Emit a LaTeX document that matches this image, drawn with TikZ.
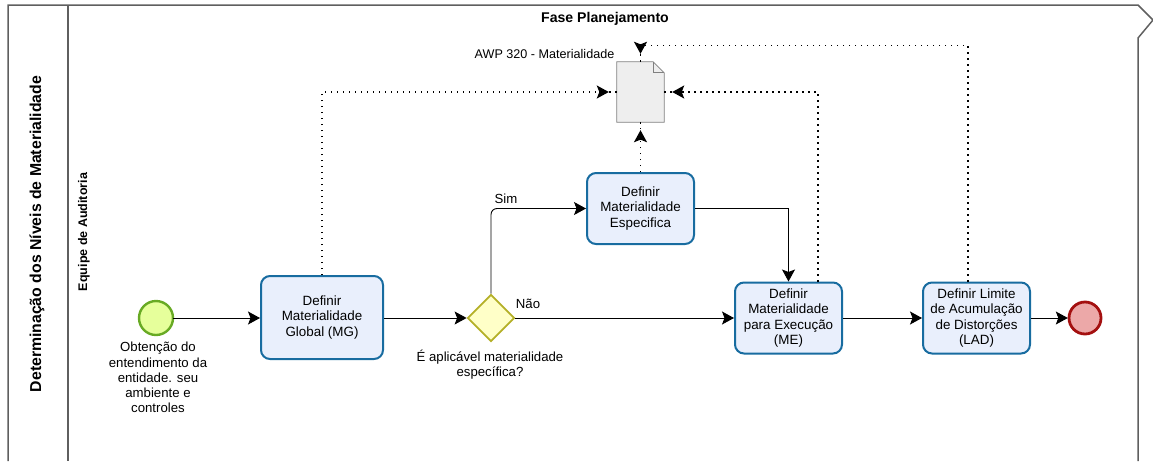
\documentclass[tikz,border=0pt]{standalone}
\usepackage{fontspec}
\setmainfont{Liberation Sans}
\usetikzlibrary{arrows.meta,shapes.geometric}
\definecolor{taskfill}{RGB}{233,239,252}
\definecolor{taskline}{RGB}{24,108,160}
\definecolor{startfill}{RGB}{230,255,155}
\definecolor{startline}{RGB}{104,170,36}
\definecolor{gatefill}{RGB}{255,255,200}
\definecolor{gateline}{RGB}{180,176,40}
\definecolor{endfill}{RGB}{236,168,168}
\definecolor{endline}{RGB}{164,16,16}
\definecolor{poolline}{RGB}{95,95,95}
\definecolor{docfill}{RGB}{238,238,238}

\begin{document}
\begin{tikzpicture}[x=1pt,y=-1pt,
	task/.style={draw=taskline, fill=taskfill, line width=2pt, rounded corners=9pt,
		align=center, font=\fontsize{13.4}{15.2}\selectfont, inner sep=2pt},
	flow/.style={draw=black, line width=0.9pt, -{Stealth[length=12pt,width=13pt,inset=2.5pt]}},
	dotline/.style={draw=black, line width=1.4pt, dash pattern=on 1.4pt off 4.6pt},
	dotflow/.style={dotline, shorten >=8pt, -{Stealth[length=12pt,width=13pt,inset=2.5pt]}},
	lbl/.style={align=center, font=\fontsize{13.2}{15.2}\selectfont, inner sep=0pt}]
	\useasboundingbox (0,0) rectangle (1153,461);

	% pool and lane
	\draw[poolline, line width=1.5pt] (8,461) -- (8,5) -- (1138,5) -- (1153,20) -- (1138,38) -- (1138,461);
	\draw[poolline, line width=1.5pt] (68,5) -- (68,461);
	\node[rotate=90, font=\fontsize{15.8}{18}\selectfont\bfseries] (pool) at (37,234) {Determinação dos Níveis de Materialidade};
	\node[rotate=90, font=\fontsize{12.5}{14}\selectfont\bfseries] (lane) at (84,232) {Equipe de Auditoria};
	\node[font=\fontsize{14.1}{16}\selectfont\bfseries] (fase) at (605,19) {Fase Planejamento};

	% document
	\node[minimum width=47pt, minimum height=60pt, inner sep=0pt] (doc) at (640.5,92) {};
	\filldraw[fill=docfill, draw=gray, line width=0.8pt] (doc.south west) -- (doc.north west) -- ([xshift=-11pt]doc.north east)
		-- ([yshift=-11pt]doc.north east) -- (doc.south east) -- cycle;
	\draw[gray, line width=0.8pt] ([xshift=-11pt]doc.north east) -- ++(0,11) -- ([yshift=-11pt]doc.north east);
	\node[lbl, font=\fontsize{12.6}{14}\selectfont] (doclbl) at (544.5,54) {AWP 320 - Materialidade};

	% events, gateway, tasks
	\filldraw[fill=startfill, draw=startline, line width=2.4pt] (156,318) circle (17);
	\node[minimum size=34pt, inner sep=0pt] (start) at (156,318) {};
	\node[lbl] (stlbl) at (158,377.5) {Obtenção do\\entendimento da\\entidade. seu\\ambiente e\\controles};

	\node[task, minimum width=122pt, minimum height=83pt] (mg) at (322,317.5) {Definir\\Materialidade\\Global (MG)};

	\node[diamond, draw=gateline, fill=gatefill, line width=1.8pt, minimum size=47pt, inner sep=0pt] (gw) at (491,318) {};
	\node[lbl] (gwlbl) at (490,364.5) {É aplicável materialidade\\específica?};

	\node[task, minimum width=107pt, minimum height=71pt] (esp) at (640.5,208.5) {Definir\\Materialidade\\Especifica};
	\node[task, minimum width=107pt, minimum height=71pt] (me) at (788.5,318) {Definir\\Materialidade\\para Execução\\(ME)};
	\node[task, minimum width=107pt, minimum height=71pt] (lad) at (976.5,318) {Definir Limite\\de Acumulação\\de Distorções\\(LAD)};

	\filldraw[fill=endfill, draw=endline, line width=2.8pt] (1085,318) circle (16);
	\node[minimum size=34pt, inner sep=0pt] (end) at (1085,318) {};

	% sequence flows
	\draw[flow] (start) -- (mg.west |- start);
	\draw[flow] (mg.east |- gw) -- (gw.west);
	\draw[flow, rounded corners=6pt] (gw.north) |- (esp.west);
	\draw[flow] (gw.east) -- (me.west);
	\draw[flow] (esp.east) -| (me.north);
	\draw[flow] (me) -- (lad);
	\draw[flow] (lad) -- (end);
	\node[lbl] (sim) at (506,199) {Sim};
	\node[lbl] (nao) at (528,304) {Não};

	% data associations
	\draw[dotflow] (mg.north) |- (doc.west);
	\draw[dotline] (doc.west) -- ++(-8,0);
	\draw[dotflow] ([xshift=29.5pt]me.north) |- (doc.east);
	\draw[dotline] (doc.east) -- ++(8,0);
	\draw[dotflow] (esp.north) -- (doc.south);
	\draw[dotline] (doc.south) -- ++(0,7);
	\draw[dotflow] ([xshift=-8.5pt]lad.north) -- ++(0,-236) -| (doc.north);
	\draw[dotline] (doc.north) -- ++(0,-8);

\end{tikzpicture}
\end{document}
